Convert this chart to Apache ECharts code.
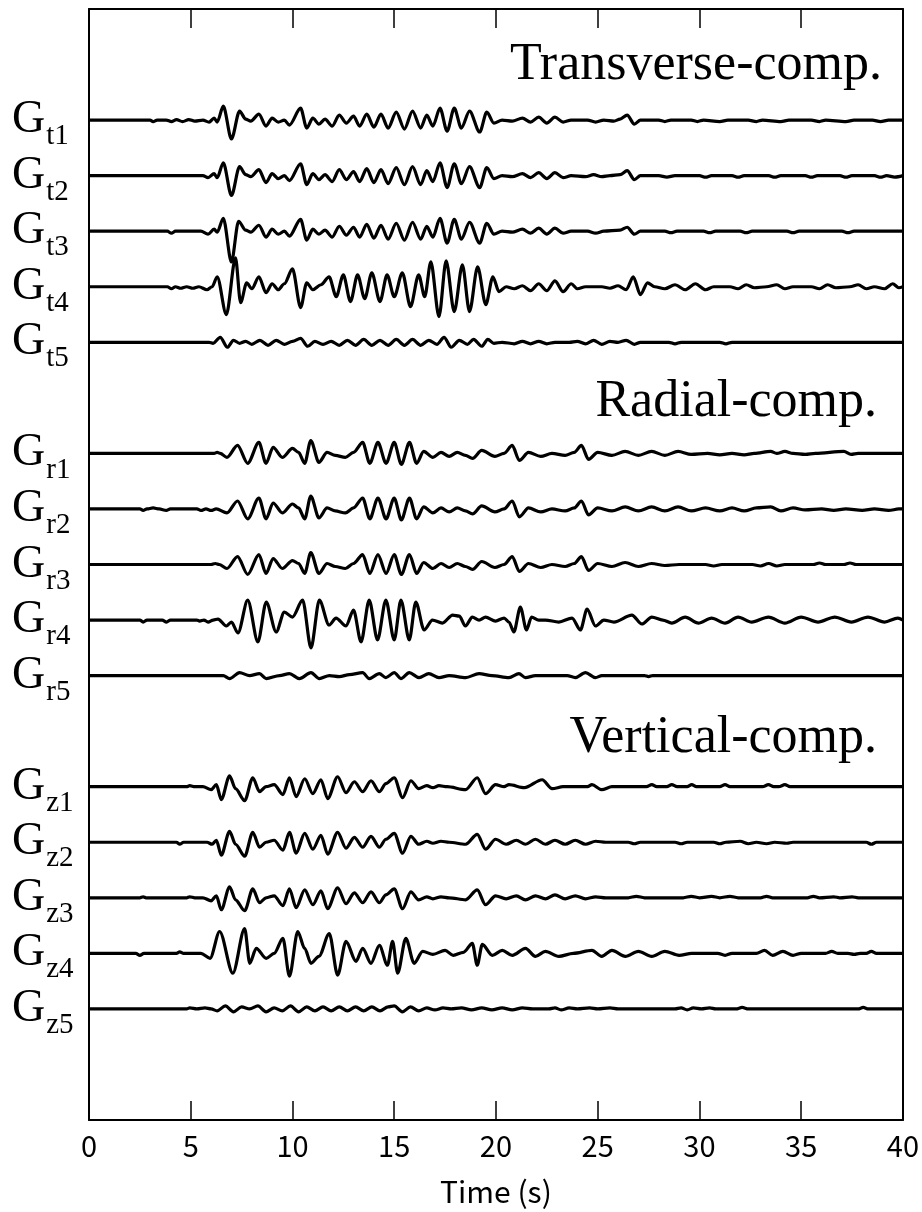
<!DOCTYPE html>
<html>
<head>
<meta charset="utf-8">
<script src="https://cdn.jsdelivr.net/npm/echarts@6/dist/echarts.min.js"></script>
<style>
  html, body { margin: 0; padding: 0; background: #fff; }
  #seismoChart { width: 922px; height: 1212px; }
</style>
</head>
<body>
<div id="seismoChart"></div>
<script>
// ==========================================================================
// Waveform data: [time (s), amplitude (px, up = +)]
// ==========================================================================

const timeTicks = [0, 5, 10, 15, 20, 25, 30, 35, 40];

const gt1 = [[0,0],[3.0,0],[3.15,-1.5],[3.35,0],[3.8,0],[4.05,-1.5],[4.3,0.5],[4.6,-1.5],[4.9,0.5],[5.2,-1],[5.6,0],[5.9,-2],[6.15,2],[6.3,-2],[6.6,14],[7.0,-19],[7.4,9],[7.7,1],[7.95,-1],[8.35,6],[8.7,-6],[9.0,2],[9.3,-2],[9.6,0],[9.85,-5],[10.4,12],[10.7,-8],[11.0,2],[11.3,-4],[11.6,1],[11.95,-6],[12.3,5],[12.65,-3],[13.0,4],[13.3,-6],[13.65,6],[14.0,-7],[14.35,6],[14.7,-8],[15.1,8],[15.5,-9],[15.9,9],[16.3,-8],[16.6,5],[16.9,-6],[17.25,12],[17.6,-11],[17.95,12],[18.3,-8],[18.7,9],[19.2,-12],[19.55,8],[19.9,-3],[20.3,0],[20.8,-1],[21.3,2],[21.7,-2],[22.1,3],[22.5,-3],[22.9,3],[23.3,-2],[23.7,0],[24.5,0],[24.9,-2],[25.3,0],[25.8,-1],[26.1,1],[26.45,5],[26.8,-4],[27.1,0],[28.0,0],[28.3,-1.5],[28.6,0],[29.6,0],[29.9,-1.5],[30.2,0],[31.0,-1.5],[31.4,0],[32.4,0],[32.8,-1.5],[33.1,0],[34.0,-1.5],[34.4,0],[35.5,0],[35.9,-1.5],[36.2,0],[37.2,-1.5],[37.6,0],[38.5,0],[38.9,-1.5],[39.3,0],[40,0]];
const gt2 = [[0,0],[5.6,0],[5.85,-2],[6.15,2],[6.3,-2],[6.6,13],[7.0,-20],[7.4,9],[7.7,1],[7.95,-1],[8.35,6],[8.7,-7],[9.0,2],[9.3,-3],[9.6,0],[9.85,-5],[10.4,12],[10.7,-9],[11.0,2],[11.3,-4],[11.6,1],[11.95,-6],[12.3,6],[12.65,-4],[13.0,4],[13.3,-6],[13.65,7],[14.0,-7],[14.35,6],[14.7,-8],[15.1,8],[15.5,-9],[15.9,9],[16.3,-9],[16.6,5],[16.9,-6],[17.25,13],[17.6,-12],[17.95,12],[18.3,-8],[18.7,9],[19.2,-12],[19.55,8],[19.9,-3],[20.3,0],[20.8,-1],[21.3,2],[21.7,-2],[22.1,3],[22.5,-3],[22.9,3],[23.3,-2],[23.7,0],[24.4,-1],[24.8,1],[25.2,-1],[25.6,0],[26.1,1],[26.45,5],[26.8,-4],[27.1,0],[28.0,0],[28.4,-1.5],[28.8,0],[30.0,0],[30.3,-1.5],[30.6,0],[31.6,0],[31.9,-1.5],[32.2,0],[33.4,0],[33.7,-1.5],[34.0,0],[35.2,0],[35.5,-1.5],[35.8,0],[36.9,0],[37.2,-1.5],[37.5,0],[38.6,0],[38.9,-1.5],[39.2,0],[39.6,-1.5],[40,0]];
const gt3 = [[0,0],[3.85,0],[4.05,-2],[4.25,0],[5.5,0],[5.85,-3],[6.15,2],[6.3,-1],[6.6,13],[7.0,-31],[7.35,10],[7.7,1],[7.95,-1],[8.35,6],[8.7,-6],[9.0,2],[9.3,-3],[9.6,0],[9.85,-5],[10.4,12],[10.7,-9],[11.0,2],[11.3,-3],[11.6,1],[11.95,-6],[12.3,5],[12.65,-4],[13.0,4],[13.3,-6],[13.65,7],[14.0,-7],[14.35,6],[14.7,-8],[15.1,8],[15.5,-9],[15.9,9],[16.3,-8],[16.6,5],[16.9,-6],[17.25,13],[17.6,-12],[17.95,12],[18.3,-8],[18.7,9],[19.2,-12],[19.55,8],[19.9,-3],[20.3,0],[20.8,-1],[21.3,2],[21.7,-2],[22.1,3],[22.5,-3],[22.9,3],[23.3,-2],[23.7,0],[24.5,0],[24.9,-2],[25.3,0],[26.1,1],[26.45,4],[26.8,-3],[27.1,0],[28.3,0],[28.6,-1.5],[28.9,0],[30.2,0],[30.5,-1.5],[30.8,0],[32.0,0],[32.3,-1.5],[32.6,0],[34.3,0],[34.6,-1.5],[34.9,0],[37.0,0],[37.3,-1.5],[37.6,0],[40,0]];
const gt4 = [[0,0],[3.85,0],[4.05,-2],[4.25,0],[4.5,-1.5],[4.8,0],[5.1,-1.5],[5.4,0],[5.8,-3],[6.05,0],[6.3,10],[6.75,-28],[7.2,29],[7.45,-16],[7.75,4],[8.0,-2],[8.35,10],[8.7,-6],[9.0,3],[9.3,-3],[9.6,3],[10.0,18],[10.4,-21],[10.7,4],[11.0,-3],[11.4,2],[11.8,10],[12.15,-10],[12.5,12],[12.85,-15],[13.2,12],[13.55,-12],[13.9,14],[14.3,-15],[14.65,12],[15.0,-10],[15.4,14],[15.8,-20],[16.2,12],[16.5,-10],[16.8,25],[17.2,-30],[17.55,26],[17.95,-25],[18.35,22],[18.7,-25],[19.1,20],[19.5,-18],[19.85,10],[20.15,-5],[20.5,0],[20.9,-2],[21.3,1],[21.7,-4],[22.1,3],[22.5,-4],[22.9,6],[23.3,-5],[23.7,3],[24.0,-2],[24.4,0],[25.2,0],[25.6,-1.5],[26.0,1],[26.4,-3],[26.75,10],[27.1,-8],[27.45,4],[27.8,0],[28.3,-2],[28.8,2],[29.3,-3],[29.8,3],[30.3,-3],[30.7,0],[31.5,0],[31.9,-2],[32.3,2],[32.7,-1],[33.3,0],[33.8,2],[34.2,-2],[34.6,0],[35.5,0],[35.9,-2],[36.3,2],[36.7,-1],[37.4,0],[37.8,2],[38.2,-2],[38.6,0],[39.1,-2],[39.5,3],[39.8,-1],[40,0]];
const gt5 = [[0,0],[5.9,0],[6.1,-1],[6.45,5],[6.8,-5],[7.1,2],[7.4,-1],[7.7,1],[8.0,-2],[8.4,2],[8.8,-3],[9.2,2],[9.6,-2],[10.0,1],[10.4,4],[10.75,-4],[11.1,1],[11.5,-2],[11.9,1],[12.3,-3],[12.7,2],[13.1,-3],[13.5,3],[13.9,-3],[14.3,2],[14.7,-3],[15.1,3],[15.5,-3],[15.9,3],[16.3,-3],[16.7,2],[17.1,-2],[17.45,5],[17.8,-5],[18.2,2],[18.6,-2],[18.9,3],[19.3,-4],[19.6,3],[19.9,-1],[20.3,0],[20.9,-1.5],[21.3,1],[21.7,-1.5],[22.1,1],[22.5,-1.5],[22.9,0],[23.6,0],[24.0,1],[24.4,-1.5],[24.8,2],[25.2,-2],[25.6,1],[26.0,0],[26.4,2],[26.8,-2],[27.1,0],[28.5,0],[28.8,-1.5],[29.1,0],[31.0,0],[31.3,-1.5],[31.6,0],[40,0]];

const gr1 = [[0,0],[6.15,0],[6.3,1],[6.45,0],[6.78,-4],[7.3,8],[7.8,-10],[8.35,11],[8.7,-10],[9.05,6],[9.5,-4],[10.0,5],[10.3,1],[10.6,-10],[10.9,13],[11.3,-9],[11.7,1],[12.1,-2],[12.6,-4],[13.0,1],[13.45,11],[13.8,-10],[14.2,11],[14.6,-10],[15.0,11],[15.35,-11],[15.75,11],[16.1,-10],[16.45,2],[16.9,-4],[17.3,1],[17.7,-3],[18.1,1],[18.5,-2],[18.85,-5],[19.3,3],[19.95,-3],[20.4,0],[20.8,8],[21.15,-7],[21.6,1],[22.2,-3],[22.75,0],[23.4,-2],[23.85,1],[24.2,8],[24.55,-6],[25.0,1],[25.7,-2],[26.35,2],[27.0,-2],[27.65,2],[28.3,-2],[28.95,2],[29.6,-1],[30.4,0],[31.0,-1.5],[31.6,0],[32.2,-1.5],[32.7,0],[33.5,2],[33.8,0],[34.2,2],[34.6,0],[35.2,-1],[35.7,0],[37.1,2],[37.45,-1],[37.8,0],[40,0]];
const gr2 = [[0,0],[2.5,0],[2.66,-1.5],[2.85,0],[3.15,1],[3.45,0],[3.8,-1.5],[4.0,0],[5.3,0],[5.5,-1.5],[5.75,0],[6.0,-1.5],[6.25,0],[6.78,-4],[7.3,8],[7.8,-10],[8.35,11],[8.7,-10],[9.05,6],[9.5,-4],[10.0,5],[10.3,1],[10.6,-10],[10.9,13],[11.3,-9],[11.7,1],[12.1,-2],[12.6,-4],[13.0,1],[13.45,11],[13.8,-10],[14.2,11],[14.6,-10],[15.0,11],[15.35,-11],[15.75,11],[16.1,-10],[16.45,2],[16.9,-4],[17.3,1],[17.7,-3],[18.1,1],[18.5,-2],[18.85,-5],[19.3,3],[19.95,-3],[20.4,0],[20.8,8],[21.15,-8],[21.6,1],[22.2,-3],[22.75,0],[23.4,-2],[23.85,1],[24.2,8],[24.55,-6],[25.0,1],[25.7,-2],[26.35,2],[27.0,-2],[27.65,2],[28.3,-2],[28.95,2],[29.6,-2],[30.3,1],[31.0,-2],[31.6,1],[32.2,-2],[32.8,1],[33.5,2],[34.0,-2],[34.6,1],[35.2,-1],[36.0,0],[36.6,-1.5],[37.2,0],[38.0,-1.5],[38.6,0],[39.3,-1.5],[39.8,0],[40,0]];
const gr3 = [[0,0],[6.0,0],[6.2,1],[6.4,0],[6.78,-4],[7.3,8],[7.8,-10],[8.35,10],[8.7,-9],[9.05,6],[9.5,-4],[10.0,4],[10.3,1],[10.6,-9],[10.9,12],[11.3,-9],[11.7,1],[12.1,-2],[12.6,-4],[13.0,1],[13.45,10],[13.8,-9],[14.2,10],[14.6,-9],[15.0,10],[15.35,-10],[15.75,10],[16.1,-9],[16.45,2],[16.9,-4],[17.3,1],[17.7,-3],[18.1,1],[18.5,-2],[18.85,-5],[19.3,3],[19.95,-3],[20.4,0],[20.8,8],[21.15,-7],[21.6,1],[22.2,-3],[22.75,0],[23.4,-2],[23.85,1],[24.2,8],[24.55,-6],[25.0,1],[25.7,-2],[26.35,2],[27.0,-2],[27.65,1],[28.3,-1],[29.0,0],[30.3,0],[30.7,-1.5],[31.1,0],[32.6,0],[33.0,-1.5],[33.4,1],[33.8,-1.5],[34.2,0],[35.6,0],[35.9,1.5],[36.2,0],[37.1,0],[37.4,1.5],[37.7,0],[40,0]];
const gr4 = [[0,0],[2.5,0],[2.66,-2],[2.85,0],[3.6,0],[3.81,-2],[4.0,0],[5.3,0],[5.44,-1],[5.65,0],[5.85,-2],[6.1,0],[6.34,1],[6.75,-6],[7.0,-2],[7.32,-13],[7.8,20],[8.3,-22],[8.71,18],[9.2,-12],[9.6,8],[10.0,3],[10.5,20],[10.91,-28],[11.32,20],[11.8,-5],[12.14,2],[12.63,-6],[13.0,10],[13.37,-22],[13.77,20],[14.18,-20],[14.59,20],[15.0,-20],[15.33,20],[15.74,-20],[16.06,18],[16.47,-10],[16.88,0],[17.37,-3],[17.87,5],[18.2,4],[18.5,-6],[18.84,3],[19.17,0],[19.49,3],[19.98,-1],[20.4,2],[20.64,-2],[20.88,-12],[21.2,13],[21.5,-10],[21.75,3],[22.1,0],[22.43,0],[23.09,-2],[23.74,2],[24.15,-10],[24.48,11],[24.89,-6],[25.3,0],[25.8,-2],[26.68,5],[27.17,-4],[27.66,3],[28.2,0],[28.64,-3],[29.3,3],[29.95,-3],[30.6,2],[31.26,-3],[31.9,3],[32.57,-2],[33.39,3],[34.2,-3],[35.0,3],[35.83,-2],[36.65,3],[37.47,-2],[38.28,3],[39.1,-2],[39.75,2],[40,0]];
const gr5 = [[0,0],[6.6,0],[6.91,-3],[7.4,3],[7.89,0],[8.38,2],[8.71,-3],[9.36,0],[9.85,2],[10.34,-3],[10.91,3],[11.32,-3],[11.81,0],[12.3,-1],[12.8,1],[13.45,3],[13.77,-3],[14.27,2],[14.59,-2],[15.0,3],[15.33,-3],[15.74,3],[16.22,-2],[16.7,2],[17.2,-2],[17.7,0],[18.51,-2],[19.17,2],[19.8,0],[20.64,-2],[21.13,2],[21.45,-2],[21.94,0],[23.5,0],[23.9,-2],[24.4,3],[24.89,-2],[25.2,0],[27.3,0],[27.5,-1],[27.7,0],[40,0]];

const gz1 = [[0,0],[4.8,0],[4.95,1],[5.2,0],[5.6,0],[6.0,-3],[6.26,2],[6.5,-13],[6.91,11],[7.2,-2],[7.65,-14],[8.05,9],[8.38,-5],[8.7,0],[9.1,2],[9.53,-8],[9.85,9],[10.18,-10],[10.6,8],[11.0,-7],[11.4,7],[11.73,-12],[12.22,10],[12.63,-6],[13.04,5],[13.45,-5],[13.86,6],[14.27,-5],[14.59,3],[15.0,9],[15.41,-11],[15.82,6],[16.2,-2],[16.6,1],[16.9,-1],[17.2,1],[17.6,0],[18.51,-3],[19.08,9],[19.49,-7],[19.98,2],[20.4,0],[20.64,2],[21.4,-1],[22.27,7],[22.76,-2],[23.3,0],[24.5,0],[24.72,2],[25.2,-3],[25.7,0],[27.4,0],[27.66,2],[27.9,0],[28.4,0],[28.64,2],[28.9,0],[29.4,0],[29.62,2],[29.85,0],[31.0,0],[31.26,2],[31.5,0],[33.1,0],[33.39,2],[33.65,0],[33.9,0],[34.2,2],[34.45,0],[40,0]];
const gz2 = [[0,0],[4.3,0],[4.46,-2],[4.65,0],[5.8,0],[6.05,-2],[6.26,2],[6.5,-13],[6.91,11],[7.2,-2],[7.65,-14],[8.05,10],[8.38,-5],[8.7,0],[9.1,2],[9.53,-8],[9.85,10],[10.18,-11],[10.6,9],[11.0,-7],[11.4,7],[11.73,-12],[12.22,10],[12.63,-6],[13.04,5],[13.45,-5],[13.86,6],[14.27,-5],[14.59,3],[15.0,9],[15.41,-11],[15.82,6],[16.2,-2],[16.6,1],[16.9,-1],[17.3,1],[17.7,0],[18.51,-2],[19.08,8],[19.49,-7],[19.98,3],[20.5,-2],[21.0,2],[21.45,-2],[21.94,3],[22.43,-2],[22.9,2],[23.4,-2],[23.9,2],[24.4,-2],[24.9,1],[25.4,0],[26.5,0],[26.8,-1.5],[27.1,0],[28.8,0],[29.1,-1.5],[29.4,0],[30.7,0],[31.0,-1.5],[31.3,0],[32.0,1],[32.4,-1.5],[32.8,0],[33.3,-1.5],[33.7,0],[34.3,-1],[34.6,0],[38.2,0],[38.45,-2],[38.7,0],[40,0]];
const gz3 = [[0,0],[2.5,0],[2.66,1],[2.8,0],[4.8,0],[4.95,1],[5.2,0],[5.6,0],[6.0,-3],[6.26,2],[6.5,-12],[6.91,11],[7.2,-2],[7.65,-13],[8.05,9],[8.38,-5],[8.7,0],[9.1,2],[9.53,-8],[9.85,9],[10.18,-10],[10.6,8],[11.0,-7],[11.4,7],[11.73,-11],[12.22,10],[12.63,-6],[13.04,5],[13.45,-5],[13.86,6],[14.27,-5],[14.59,3],[15.0,9],[15.41,-11],[15.82,6],[16.2,-2],[16.6,1],[16.9,-1],[17.3,1],[17.7,0],[18.51,-2],[19.08,8],[19.49,-7],[19.98,2],[20.5,-1],[21.0,2],[21.45,-2],[21.94,2],[22.43,-1],[22.9,3],[23.4,-1],[23.9,2],[24.4,-1],[24.9,1],[25.4,0],[26.5,0],[26.9,1.5],[27.3,0],[29.2,0],[29.6,1.5],[30.0,0],[30.6,1.5],[31.0,0],[31.5,1.5],[31.9,0],[33.0,0],[33.3,1.5],[33.6,0],[35.3,0],[35.6,1.5],[35.9,0],[36.6,1],[36.9,0],[37.5,1],[37.8,0],[40,0]];
const gz4 = [[0,0],[2.3,0],[2.5,-2],[2.7,0],[4.3,0],[4.46,1.5],[4.65,0],[5.5,0],[5.95,-5],[6.42,22],[7.07,-20],[7.65,25],[7.9,-10],[8.22,5],[8.71,-5],[9.1,0],[9.53,15],[9.85,-23],[10.26,22],[10.6,5],[10.91,-10],[11.3,-3],[11.81,20],[12.22,-22],[12.63,12],[13.12,-8],[13.45,5],[13.86,-10],[14.27,8],[14.67,-12],[14.92,12],[15.17,-20],[15.57,15],[15.98,-10],[16.4,2],[16.9,-1],[17.5,3],[17.9,-2],[18.4,1],[18.84,10],[19.08,-12],[19.33,9],[19.82,-2],[20.31,3],[20.8,-2],[21.45,5],[21.94,-3],[22.43,2],[23.09,-3],[23.8,0],[24.72,3],[25.2,-3],[25.7,3],[26.36,-3],[27.0,2],[27.66,-3],[28.3,2],[29.0,-2],[29.62,0],[30.9,0],[31.26,-2],[31.6,0],[32.8,0],[33.2,3],[33.6,-2],[34.1,2],[34.6,-2],[35.0,0],[36.2,0],[36.5,2],[36.8,0],[37.3,0],[37.6,-1],[37.9,0],[38.2,0],[38.45,2],[38.7,0],[40,0]];
const gz5 = [[0,0],[4.8,0],[4.95,1],[5.3,0],[5.7,1],[6.0,0],[6.3,-2],[6.7,3],[7.1,-3],[7.5,2],[7.9,0],[8.3,3],[8.7,-3],[9.1,1],[9.5,-2],[9.9,3],[10.3,-3],[10.7,2],[11.1,-2],[11.5,2],[11.9,-2],[12.3,2],[12.7,-2],[13.1,2],[13.5,-2],[13.9,2],[14.3,-2],[14.7,2],[15.0,3],[15.4,-3],[15.8,2],[16.2,-2],[16.6,1],[17.0,-1],[17.4,1],[17.8,0],[18.3,1],[18.8,-1],[19.3,1],[19.8,-1],[20.3,1],[20.8,-1],[21.3,1],[21.8,0],[22.6,0],[22.9,1],[23.2,-1],[23.6,1],[24.0,0],[24.6,1],[25.0,0],[25.6,1],[26.0,0],[28.8,0],[29.1,1],[29.4,-1],[29.7,1],[30.1,0],[30.5,1],[30.8,0],[31.8,0],[32.1,1.5],[32.4,0],[37.8,0],[38.05,1.5],[38.3,0],[40,0]];

const traceGroups = [
    { sub: 't', traces: [gt1, gt2, gt3, gt4, gt5], title: 'Transverse-comp.' },
    { sub: 'r', traces: [gr1, gr2, gr3, gr4, gr5], title: 'Radial-comp.' },
    { sub: 'z', traces: [gz1, gz2, gz3, gz4, gz5], title: 'Vertical-comp.' }
];

// ==========================================================================
// Layout: y axis counts trace slots (0 at bottom, 20 at top)
// ==========================================================================

const slotCount = 20;
const pxPerSlot = 1118 / slotCount;   // plot height / slots, converts px amplitudes
var slotLabels = {};
var seriesList = [];

traceGroups.forEach(function(group, gi) {
    group.traces.forEach(function(trace, ti) {
        var base = 18 - gi * 6 - ti;
        slotLabels[base] = group.sub + (ti + 1);
        seriesList.push({
            name: 'G' + group.sub + (ti + 1),
            type: 'line',
            data: trace.map(p => [p[0], base + p[1] / pxPerSlot]),
            symbol: 'none',
            smooth: 0.3,
            smoothMonotone: 'x',
            lineStyle: { color: '#000', width: 3.2 },
            clip: false,
            silent: true
        });
    });
});

var titleGraphics = [
    { text: traceGroups[0].title, x: 882, y: 65 },
    { text: traceGroups[1].title, x: 877, y: 402 },
    { text: traceGroups[2].title, x: 877, y: 738 }
].map(t => ({
    type: 'text',
    style: {
        text: t.text, x: t.x, y: t.y,
        align: 'right', verticalAlign: 'middle',
        fontFamily: 'Liberation Serif', fontSize: 52, fill: '#000'
    }
}));

var chart = echarts.init(document.getElementById('seismoChart'), null, { renderer: 'canvas' });

var axisLine = { show: true, onZero: false, lineStyle: { color: '#000', width: 2 } };
var axisTick = { show: true, inside: true, length: 19, lineStyle: { color: '#000', width: 1.5 } };

chart.setOption({
    animation: false,
    backgroundColor: '#fff',
    grid: { left: 89, right: 17, top: 9, bottom: 85, containLabel: false },
    graphic: titleGraphics,
    xAxis: [
        {
            type: 'value', position: 'bottom',
            min: 0, max: 40, interval: 5,
            axisLine: axisLine, axisTick: axisTick,
            splitLine: { show: false },
            axisLabel: {
                margin: 11, color: '#000', fontSize: 29,
                fontFamily: 'Noto Sans CJK JP',
                formatter: v => timeTicks.indexOf(v) >= 0 ? String(v) : ''
            },
            name: 'Time (s)', nameLocation: 'middle', nameGap: 57,
            nameTextStyle: { color: '#000', fontSize: 30, fontFamily: 'Noto Sans CJK JP' }
        },
        {
            type: 'value', position: 'top',
            min: 0, max: 40, interval: 5,
            axisLine: axisLine, axisTick: axisTick,
            splitLine: { show: false },
            axisLabel: { show: false }
        }
    ],
    yAxis: [
        {
            type: 'value', position: 'left',
            min: 0, max: slotCount, interval: 1,
            axisLine: axisLine, axisTick: { show: false },
            splitLine: { show: false },
            axisLabel: {
                margin: 77, align: 'left',
                formatter: function(v) {
                    return slotLabels[v] ? '{g|G}{s|' + slotLabels[v] + '}' : '';
                },
                rich: {
                    g: { fontFamily: 'Liberation Serif', fontSize: 46, color: '#000',
                         lineHeight: 46, verticalAlign: 'top', padding: [0, 0, 17, 0] },
                    s: { fontFamily: 'Liberation Serif', fontSize: 29, color: '#000',
                         lineHeight: 29, verticalAlign: 'top', padding: [25, 0, 0, 1] }
                }
            }
        },
        {
            type: 'value', position: 'right',
            min: 0, max: slotCount, interval: 1,
            axisLine: axisLine, axisTick: { show: false },
            splitLine: { show: false },
            axisLabel: { show: false }
        }
    ],
    series: seriesList
});
</script>
</body>
</html>
